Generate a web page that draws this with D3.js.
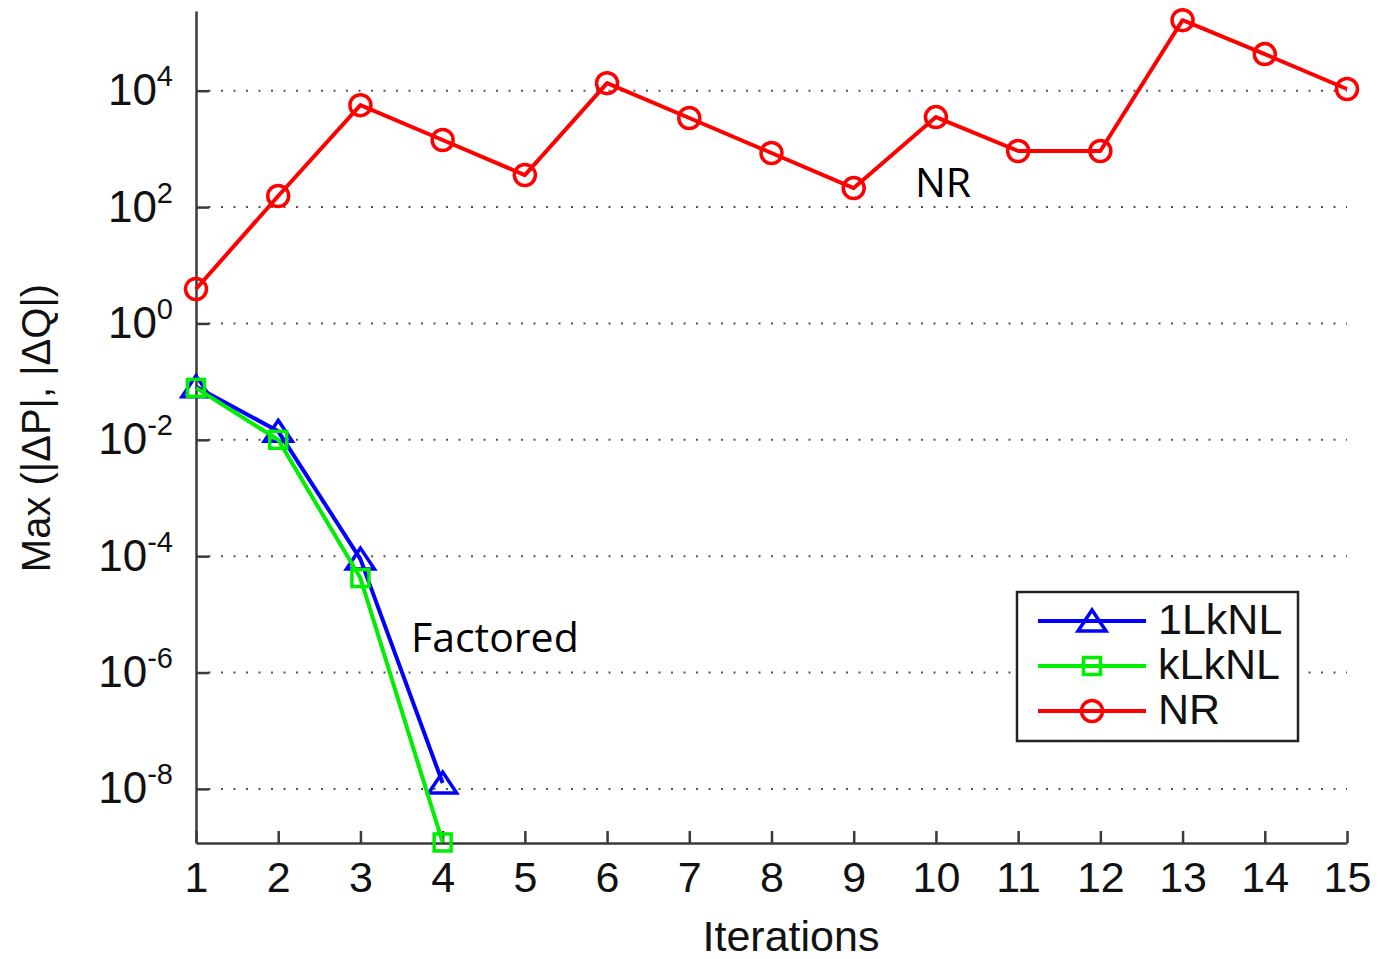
<!DOCTYPE html>
<html>
<head>
<meta charset="utf-8">
<script src="https://cdn.jsdelivr.net/npm/d3@7"></script>
<style>
  html, body { margin: 0; padding: 0; background: #ffffff; }
  svg { display: block; }
  .tick-label { font-family: "Liberation Sans", Arial, sans-serif; fill: #111; }
</style>
</head>
<body>
<svg id="chart" width="1382" height="959"></svg>
<script>
// Iteration numbers on the horizontal axis
const iterations = [1, 2, 3, 4, 5, 6, 7, 8, 9, 10, 11, 12, 13, 14, 15];

// Max(|ΔP|, |ΔQ|) per iteration for each solver
const oneLkNL = [0.082, 0.014, 8.9e-5, 1.26e-8];
const kLkNL   = [0.078, 0.010, 4.2e-5, 1.2e-9];
const newtonRaphson = [3.9, 155, 5650, 1420, 355, 13500, 3400, 850, 212, 3520, 920, 920, 163000, 42600, 10700];

// Decade exponents that get a tick, label and gridline
const yTickExponents = [-8, -6, -4, -2, 0, 2, 4];

const seriesNames = ["1LkNL", "kLkNL", "NR"];

const svg = d3.select("#chart");

const x = d3.scaleLinear().domain([1, 15]).range([196, 1347]);
const y = d3.scaleLog().domain([Math.pow(10, -8.93), Math.pow(10, 5.37)]).range([843, 11]);

const axisColor = "#3a3a3a";
const labelFont = "'Liberation Sans', Arial, sans-serif";

// Dotted horizontal gridlines at each labelled decade
svg.append("g")
  .selectAll("line")
  .data(yTickExponents)
  .join("line")
  .attr("x1", x(1))
  .attr("x2", x(15))
  .attr("y1", d => y(Math.pow(10, d)))
  .attr("y2", d => y(Math.pow(10, d)))
  .attr("stroke", "#555")
  .attr("stroke-width", 2)
  .attr("stroke-dasharray", "2,10.5");

// Bottom axis: inward ticks, labels set underneath
const xAxis = d3.axisBottom(x)
  .tickValues(iterations)
  .tickSizeInner(-12)
  .tickSizeOuter(0)
  .tickFormat(d3.format("d"));

const gx = svg.append("g")
  .attr("transform", `translate(0,${y.range()[0]})`)
  .call(xAxis);
gx.select(".domain").attr("stroke", axisColor).attr("stroke-width", 2.5);
gx.selectAll(".tick line").attr("stroke", axisColor).attr("stroke-width", 2.5);
gx.selectAll(".tick text")
  .attr("class", "tick-label")
  .attr("y", 49)
  .attr("dy", 0)
  .style("font-size", "43px")
  .style("font-family", labelFont)
  .attr("fill", "#111");

// Left axis: inward ticks with power-of-ten labels
const yAxis = d3.axisLeft(y)
  .tickValues(yTickExponents.map(e => Math.pow(10, e)))
  .tickSizeInner(-13)
  .tickSizeOuter(0)
  .tickFormat("");

const gy = svg.append("g")
  .attr("transform", `translate(${x.range()[0]},0)`)
  .call(yAxis);
gy.select(".domain").attr("stroke", axisColor).attr("stroke-width", 2.5);
gy.selectAll(".tick line").attr("stroke", axisColor).attr("stroke-width", 2.5);
gy.selectAll(".tick text").remove();

const yLabels = gy.selectAll(".tick")
  .append("text")
  .attr("class", "tick-label")
  .attr("x", -23)
  .attr("y", 14)
  .attr("text-anchor", "end")
  .style("font-family", labelFont)
  .style("font-size", "44px")
  .attr("fill", "#111");
yLabels.append("tspan").text("10");
yLabels.append("tspan")
  .attr("dy", -19)
  .style("font-size", "29px")
  .text(d => String(Math.round(Math.log10(d))));

// Axis titles
svg.append("text")
  .attr("x", 791)
  .attr("y", 951)
  .attr("text-anchor", "middle")
  .style("font-family", labelFont)
  .style("font-size", "43px")
  .attr("fill", "#111")
  .text("Iterations");

svg.append("text")
  .attr("transform", "translate(50,428) rotate(-90)")
  .attr("text-anchor", "middle")
  .style("font-family", labelFont)
  .style("font-size", "40px")
  .attr("fill", "#111")
  .text("Max (|ΔP|, |ΔQ|)");

// Series definitions
const series = [
  { name: seriesNames[0], values: oneLkNL, color: "#0000ff", marker: "triangle" },
  { name: seriesNames[1], values: kLkNL, color: "#00ee00", marker: "square" },
  { name: seriesNames[2], values: newtonRaphson, color: "#ff0000", marker: "circle" }
];

function drawMarker(g, type, color) {
  if (type === "circle") {
    g.append("circle").attr("r", 10.5)
      .attr("fill", "none").attr("stroke", color).attr("stroke-width", 3.5);
  } else if (type === "square") {
    g.append("rect").attr("x", -8.5).attr("y", -8.5).attr("width", 17).attr("height", 17)
      .attr("fill", "none").attr("stroke", color).attr("stroke-width", 3.5);
  } else {
    g.append("path").attr("d", "M0,-11 L14,10 L-14,10 Z")
      .attr("fill", "none").attr("stroke", color).attr("stroke-width", 3.5)
      .attr("stroke-linejoin", "miter");
  }
}

const line = d3.line()
  .x((d, i) => x(iterations[i]))
  .y(d => y(d));

series.forEach(s => {
  const g = svg.append("g");
  g.append("path")
    .datum(s.values)
    .attr("d", line)
    .attr("fill", "none")
    .attr("stroke", s.color)
    .attr("stroke-width", 4)
    .attr("stroke-linejoin", "round");
  s.values.forEach((v, i) => {
    const m = g.append("g").attr("transform", `translate(${x(iterations[i])},${y(v)})`);
    drawMarker(m, s.marker, s.color);
  });
});

// Annotations
svg.append("text")
  .attr("x", 915)
  .attr("y", 197)
  .style("font-family", "'Open Sans', sans-serif")
  .style("font-size", "41px")
  .attr("fill", "#000")
  .text("NR");

svg.append("text")
  .attr("x", 411)
  .attr("y", 652)
  .style("font-family", "'Open Sans', sans-serif")
  .style("font-size", "41px")
  .attr("fill", "#000")
  .text("Factored");

// Legend
const legend = svg.append("g");
legend.append("rect")
  .attr("x", 1017).attr("y", 592)
  .attr("width", 281).attr("height", 149)
  .attr("fill", "#fff")
  .attr("stroke", "#222")
  .attr("stroke-width", 2.5);

series.forEach((s, i) => {
  const rowY = 621 + i * 45;
  legend.append("line")
    .attr("x1", 1038).attr("x2", 1146)
    .attr("y1", rowY).attr("y2", rowY)
    .attr("stroke", s.color).attr("stroke-width", 4);
  const m = legend.append("g").attr("transform", `translate(1092,${rowY})`);
  drawMarker(m, s.marker, s.color);
  legend.append("text")
    .attr("x", 1158)
    .attr("y", rowY + 13)
    .style("font-family", labelFont)
    .style("font-size", "43px")
    .attr("fill", "#111")
    .text(s.name);
});
</script>
</body>
</html>
